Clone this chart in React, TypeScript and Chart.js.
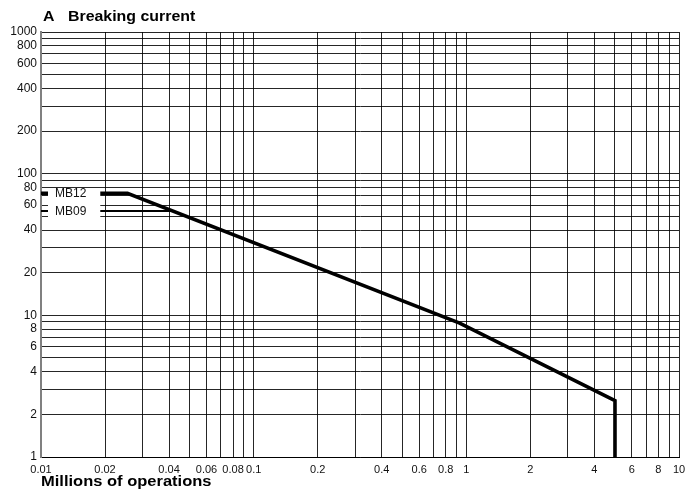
import { useEffect, useRef } from 'react';
import { Chart, registerables } from 'chart.js';

Chart.register(...registerables);

const xGridValues = [
  0.01, 0.02, 0.03, 0.04, 0.05, 0.06, 0.07, 0.08, 0.09,
  0.1, 0.2, 0.3, 0.4, 0.5, 0.6, 0.7, 0.8, 0.9,
  1, 2, 3, 4, 5, 6, 7, 8, 9, 10,
];
const xLabelValues = [0.01, 0.02, 0.04, 0.06, 0.08, 0.1, 0.2, 0.4, 0.6, 0.8, 1, 2, 4, 6, 8, 10];
const yGridValues = [
  1, 2, 3, 4, 5, 6, 7, 8, 9,
  10, 20, 30, 40, 50, 60, 70, 80, 90,
  100, 200, 300, 400, 500, 600, 700, 800, 900, 1000,
];
const yLabelValues = [1, 2, 4, 6, 8, 10, 20, 40, 60, 80, 100, 200, 400, 600, 800, 1000];

const seriesNames = ['MB12', 'MB09'];
const mb12X = [0.01, 0.0255, 0.93, 5, 5];
const mb12Y = [72.6, 72.6, 8.8, 2.5, 1];
const mb09X = [0.01, 0.0417];
const mb09Y = [54.5, 54.5];

const chartTitleLetter = 'A';
const chartTitle = 'Breaking current';
const xTitle = 'Millions of operations';

const FONT = '"Liberation Sans", Arial, sans-serif';

const near = (list: number[], v: number) => list.some((l) => Math.abs(l - v) < 1e-9 * Math.max(1, l));

const textPlugin = {
  id: 'texts',
  afterDatasetsDraw(chart: any) {
    const ctx = chart.ctx;
    const xs = chart.scales.x;
    const ys = chart.scales.y;
    ctx.save();
    // label box covering lines near the left axis
    const y12 = ys.getPixelForValue(mb12Y[0]);
    const y09 = ys.getPixelForValue(mb09Y[0]);
    const bx0 = xs.left + 7;
    const bx1 = xs.getPixelForValue(0.019);
    ctx.fillStyle = '#fff';
    ctx.fillRect(bx0, y12 - 4.5, bx1 - bx0, y09 - y12 + 11);
    ctx.fillStyle = '#111';
    ctx.font = `12px ${FONT}`;
    ctx.textBaseline = 'middle';
    ctx.textAlign = 'left';
    ctx.fillText(seriesNames[0], xs.left + 14, y12 + 0.5);
    ctx.fillText(seriesNames[1], xs.left + 14, y09 + 0.5);

    // titles
    ctx.fillStyle = '#000';
    ctx.textBaseline = 'alphabetic';
    ctx.font = `bold 15px ${FONT}`;
    ctx.save();
    ctx.translate(43, 20.5);
    ctx.scale(1.06, 1);
    ctx.fillText(chartTitleLetter, 0, 0);
    ctx.restore();
    ctx.save();
    ctx.translate(68, 20.5);
    ctx.scale(1.06, 1);
    ctx.fillText(chartTitle, 0, 0);
    ctx.restore();

    ctx.save();
    ctx.translate(41, 486);
    ctx.scale(1.1, 1);
    ctx.font = `bold 15px ${FONT}`;
    ctx.fillText(xTitle, 0, 0);
    ctx.restore();
    ctx.restore();
  },
};

export default function App() {
  const ref = useRef<HTMLCanvasElement | null>(null);
  useEffect(() => {
    if (!ref.current) return;
    const chart = new Chart(ref.current, {
      type: 'scatter',
      data: {
        datasets: [
          {
            label: seriesNames[0],
            data: mb12X.map((x, i) => ({ x, y: mb12Y[i] })),
            showLine: true,
            borderColor: '#000',
            borderWidth: 3.6,
            pointRadius: 0,
            borderJoinStyle: 'miter',
            borderCapStyle: 'butt',
          },
          {
            label: seriesNames[1],
            data: mb09X.map((x, i) => ({ x, y: mb09Y[i] })),
            showLine: true,
            borderColor: '#000',
            borderWidth: 2,
            pointRadius: 0,
            borderCapStyle: 'butt',
          },
        ],
      },
      options: {
        responsive: false,
        animation: false,
        layout: { padding: { top: 32, right: 6, bottom: 0, left: 0 } },
        plugins: {
          legend: { display: false },
          tooltip: { enabled: false },
          title: { display: false },
        },
        scales: {
          x: {
            type: 'logarithmic',
            min: 0.01,
            max: 10,
            afterBuildTicks: (scale: any) => {
              scale.ticks = xGridValues.map((v) => ({ value: v }));
            },
            afterFit: (scale: any) => {
              scale.height = 33;
              scale.paddingLeft = 0;
              scale.paddingRight = 0;
            },
            grid: { color: 'rgba(0,0,0,0.85)', lineWidth: 1, drawTicks: false },
            border: { display: true, color: '#000', width: 1 },
            ticks: {
              autoSkip: false,
              maxRotation: 0,
              minRotation: 0,
              padding: 6,
              color: '#111',
              font: { family: FONT, size: 11 },
              callback: (value: any) => (near(xLabelValues, Number(value)) ? String(Number(value)) : ''),
            },
          },
          y: {
            type: 'logarithmic',
            min: 1,
            max: 1000,
            afterBuildTicks: (scale: any) => {
              scale.ticks = yGridValues.map((v) => ({ value: v }));
            },
            afterFit: (scale: any) => {
              scale.width = 41;
              scale.paddingTop = 0;
              scale.paddingBottom = 0;
            },
            grid: { color: 'rgba(0,0,0,0.85)', lineWidth: 1, drawTicks: false },
            border: { display: true, color: '#808080', width: 2 },
            ticks: {
              autoSkip: false,
              padding: 4,
              color: '#111',
              font: { family: FONT, size: 12 },
              callback: (value: any) => (near(yLabelValues, Number(value)) ? String(Number(value)) : ''),
            },
          },
        },
      },
      plugins: [textPlugin],
    });
    return () => chart.destroy();
  }, []);
  return (
    <div style={{ position: 'absolute', left: 0, top: 0, width: 685, height: 490, background: '#fff' }}>
      <canvas ref={ref} width={685} height={490} style={{ width: 685, height: 490, display: 'block' }} />
    </div>
  );
}
